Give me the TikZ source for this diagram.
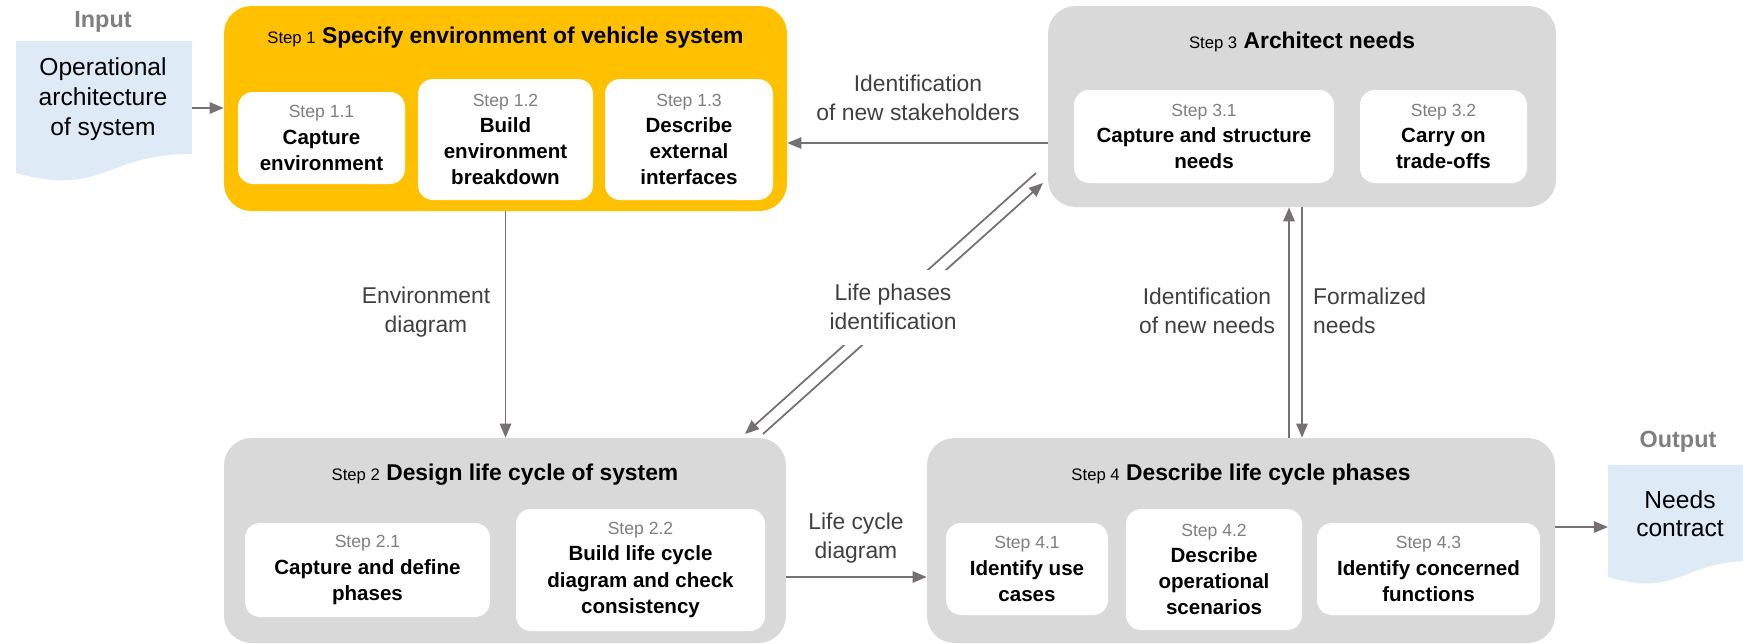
\documentclass[tikz,border=0pt]{standalone}
\usepackage{fontspec}
\setmainfont{Liberation Sans}
\usetikzlibrary{arrows.meta, calc, fit, positioning}

\definecolor{stepyellow}{HTML}{FFC000}
\definecolor{stepgray}{HTML}{D9D9D9}
\definecolor{docblue}{HTML}{DEEBF7}
\definecolor{flowgray}{HTML}{767171}
\definecolor{labelgray}{HTML}{404040}
\definecolor{numgray}{HTML}{7F7F7F}

\newcommand{\stepnum}[1]{{\fontsize{10}{14}\selectfont\mdseries\color{numgray}#1}}
\newcommand{\stepword}[1]{{\fontsize{9.5}{12}\selectfont\mdseries #1}}

\begin{document}
\begin{tikzpicture}[x=0.2mm, y=-0.2mm]

  % Define styles
  \tikzset{
    stepbox/.style={fill=stepgray, rounded corners=5.5mm, inner sep=0pt},
    subbox/.style 2 args={fill=white, rounded corners=3mm, align=center,
      minimum width=#1*0.2mm, minimum height=#2*0.2mm, inner sep=0pt,
      font=\fontsize{11.7}{14.9}\selectfont\bfseries},
    steptitle/.style={font=\fontsize{13}{15}\selectfont\bfseries},
    flow/.style={-{Triangle[length=8pt,width=6.5pt]}, line width=1pt, draw=flowgray},
    flowlabel/.style={font=\fontsize{13}{16.5}\selectfont, text=labelgray, align=center},
    doc/.style={fill=docblue},
    doctext/.style={font=\fontsize{14}{17}\selectfont, align=center},
    iolabel/.style={font=\fontsize{13.3}{16}\selectfont\bfseries, text=numgray}
  }

  \useasboundingbox (0,0) rectangle (1743,643);

%% Input document
  \fill[doc] (16,41) -- (192,41) -- (192,154)
    .. controls (104,154) and (104,197) .. (16,173) -- cycle;
  \node[iolabel] (inlbl) at (103,22) {Input};
  \node[doctext] (inp) at (103,99) {Operational\\architecture\\of system};

%% Step 1
  \node[stepbox, fill=stepyellow, fit={(224,6) (787,211)}] (s1) {};
  \node[steptitle] (t1) at (505.5,38)
    {\stepword{Step 1} Specify environment of vehicle system};
  \node[subbox={167}{92}] (s11) at (321.5,138) {\stepnum{Step 1.1}\\Capture\\environment};
  \node[subbox={175}{121}] (s12) at (505.5,139.5) {\stepnum{Step 1.2}\\Build\\environment\\breakdown};
  \node[subbox={168}{121}] (s13) at (689,139.5) {\stepnum{Step 1.3}\\Describe\\external\\interfaces};

%% Step 3
  \node[stepbox, fit={(1048,6) (1556,207)}] (s3) {};
  \node[steptitle] (t3) at (1302,42) {\stepword{Step 3} Architect needs};
  \node[subbox={260}{93}] (s31) at (1204,136.5) {\stepnum{Step 3.1}\\Capture and structure\\needs};
  \node[subbox={167}{93}] (s32) at (1443.5,136.5) {\stepnum{Step 3.2}\\Carry on\\trade-offs};

%% Step 2
  \node[stepbox, fit={(224,438) (786,643)}] (s2) {};
  \node[steptitle] (t2) at (505,475) {\stepword{Step 2} Design life cycle of system};
  \node[subbox={245}{94}] (s21) at (367.5,570) {\stepnum{Step 2.1}\\Capture and define\\phases};
  \node[subbox={249}{122}] (s22) at (640.5,570) {\stepnum{Step 2.2}\\Build life cycle\\diagram and check\\consistency};

%% Step 4
  \node[stepbox, fit={(927,438) (1555,643)}] (s4) {};
  \node[steptitle] (t4) at (1241,475) {\stepword{Step 4} Describe life cycle phases};
  \node[subbox={162}{92}] (s41) at (1027,569) {\stepnum{Step 4.1}\\Identify use\\cases};
  \node[subbox={176}{121}] (s42) at (1214,569.5) {\stepnum{Step 4.2}\\Describe\\operational\\scenarios};
  \node[subbox={223}{92}] (s43) at (1428.5,569) {\stepnum{Step 4.3}\\Identify concerned\\functions};

%% Output document
  \begin{scope}
    \clip (0,0) rectangle (1743,643);
    \fill[doc] (1608,465) -- (1752,465) -- (1752,561)
      .. controls (1680,561) and (1680,598) .. (1608,577) -- cycle;
  \end{scope}
  \node[iolabel] (outlbl) at (1678,442) {Output};
  \node[doctext, font=\fontsize{14}{16}\selectfont] (outp) at (1680,514) {Needs\\contract};

%% Flows
  \coordinate (inE) at (192,108);
  \draw[flow] (inE) -- (inE -| s1.west);

  \coordinate (fb) at ($(s3.west)+(0,36.5)$);
  \draw[flow] (fb) -- (fb -| s1.east);
  \node[flowlabel] (l31) at (918,98) {Identification\\of new stakeholders};

  \draw[flow] (s1.south) -- (s1.south |- s2.north);
  \node[flowlabel] (l12) at (426,312) {Environment\\diagram};

  \coordinate (lc) at ($(s2.east)+(0,36.5)$);
  \draw[flow] (lc) -- (lc -| s4.west);
  \node[flowlabel] (l24) at (856,538) {Life cycle\\diagram};

  \coordinate (outW) at (1608,527);
  \draw[flow] (outW -| s4.east) -- (outW);

  % Needs loop between step 3 and step 4
  \draw[flow] (s3.south) -- (s3.south |- s4.north);
  \coordinate (nu) at ($(s3.south)+(-13,0)$);
  \draw[flow] (nu |- s4.north) -- (nu);
  \node[flowlabel] (l43) at (1207,311) {Identification\\of new needs};
  \node[flowlabel, anchor=west, align=left] (l34) at (1307,311) {Formalized\\needs};

  % Life phases, both ways
  \coordinate (d3dn) at (1036,173);
  \coordinate (d2dn) at (745,434);
  \coordinate (d2up) at (763,434);
  \coordinate (d3up) at (1043,183);
  \draw[flow] (d3dn) -- (d2dn);
  \draw[flow] (d2up) -- (d3up);
  \node[flowlabel, fill=white, minimum height=15mm] (l23) at (893,307)
    {Life phases\\identification};

\end{tikzpicture}
\end{document}
